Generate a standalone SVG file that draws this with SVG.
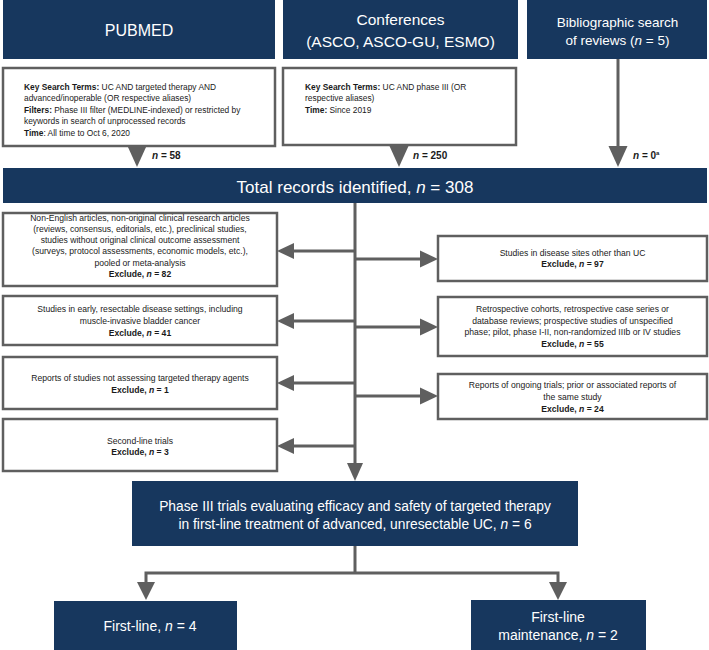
<svg xmlns="http://www.w3.org/2000/svg" width="709" height="650" viewBox="0 0 709 650">
<style>
  .dark{fill:#17375e;}
  .box{fill:#ffffff;stroke:#5f5f5f;stroke-width:2.5;}
  .ln{stroke:#5f5f5f;stroke-width:3;fill:none;}
  .ah{fill:#5f5f5f;}
  text{font-family:"Liberation Sans",Arial,sans-serif;}
  .wt{fill:#ffffff;text-anchor:middle;}
  .sm{font-size:8.6px;fill:#1a1a1a;}
  .st{font-size:8.4px;fill:#1a1a1a;}
  .c{text-anchor:middle;}
  .b{font-weight:bold;}
  .lbl{font-size:10px;font-weight:bold;fill:#1a1a1a;}
</style>
<rect width="709" height="650" fill="#ffffff"/>

<g id="connectors">
  <polygon class="ah" points="127.5,146 146.5,146 137,167"/>
  <polygon class="ah" points="389.5,146 408.5,146 399,167"/>
  <line class="ln" x1="618" y1="59" x2="618" y2="147"/>
  <polygon class="ah" points="608.5,146 627.5,146 618,167"/>
  <line class="ln" x1="355" y1="203" x2="355" y2="464"/>
  <polygon class="ah" points="347,463 363,463 355,481"/>
  <line class="ln" x1="293" y1="251" x2="355" y2="251"/>
  <polygon class="ah" points="294,243 294,259 277,251"/>
  <line class="ln" x1="293" y1="321" x2="355" y2="321"/>
  <polygon class="ah" points="294,313 294,329 277,321"/>
  <line class="ln" x1="293" y1="383" x2="355" y2="383"/>
  <polygon class="ah" points="294,375 294,391 277,383"/>
  <line class="ln" x1="293" y1="446" x2="355" y2="446"/>
  <polygon class="ah" points="294,438 294,454 277,446"/>
  <line class="ln" x1="355" y1="259" x2="421" y2="259"/>
  <polygon class="ah" points="420,250.5 420,267.5 438,259"/>
  <line class="ln" x1="355" y1="327" x2="421" y2="327"/>
  <polygon class="ah" points="420,318.5 420,335.5 438,327"/>
  <line class="ln" x1="355" y1="396" x2="421" y2="396"/>
  <polygon class="ah" points="420,387.5 420,404.5 438,396"/>
  <line class="ln" x1="355" y1="546" x2="355" y2="573"/>
  <polyline class="ln" points="146,583 146,573 558,573 558,583"/>
  <polygon class="ah" points="137,582 155,582 146,600"/>
  <polygon class="ah" points="549,582 567,582 558,600"/>
</g>

<g id="pubmed">
  <rect class="dark" x="3" y="0" width="272" height="59"/>
  <text class="wt" x="139" y="36" font-size="16">PUBMED</text>
</g>
<g id="conferences">
  <rect class="dark" x="283" y="0" width="235" height="59"/>
  <text class="wt" x="400.5" y="25" font-size="15.5">Conferences</text>
  <text class="wt" x="400.5" y="46.5" font-size="15.5">(ASCO, ASCO-GU, ESMO)</text>
</g>
<g id="bibliographic">
  <rect class="dark" x="527" y="0" width="180" height="59"/>
  <text class="wt" x="617.5" y="27" font-size="13.5">Bibliographic search</text>
  <text class="wt" x="617.5" y="45" font-size="13.5">of reviews (<tspan font-style="italic">n</tspan> = 5)</text>
</g>

<g id="pubmed-terms">
  <rect class="box" x="3" y="68" width="272" height="78"/>
  <text class="st" x="24" y="89.5"><tspan class="b">Key Search Terms:</tspan> UC AND targeted therapy AND</text>
  <text class="st" x="24" y="101">advanced/inoperable (OR respective aliases)</text>
  <text class="st" x="24" y="112.5"><tspan class="b">Filters:</tspan> Phase III filter (MEDLINE-indexed) or restricted by</text>
  <text class="st" x="24" y="124">keywords in search of unprocessed records</text>
  <text class="st" x="24" y="135.5"><tspan class="b">Time</tspan>: All time to Oct 6, 2020</text>
</g>
<g id="conf-terms">
  <rect class="box" x="283" y="68" width="233" height="77"/>
  <text class="st" x="305" y="89.5"><tspan class="b">Key Search Terms:</tspan> UC AND phase III (OR</text>
  <text class="st" x="305" y="101">respective aliases)</text>
  <text class="st" x="305" y="112.5"><tspan class="b">Time:</tspan> Since 2019</text>
</g>

<g id="labels">
  <text class="lbl" x="152" y="159"><tspan font-style="italic">n</tspan> = 58</text>
  <text class="lbl" x="413" y="159"><tspan font-style="italic">n</tspan> = 250</text>
  <text class="lbl" x="633" y="159"><tspan font-style="italic">n</tspan> = 0<tspan font-size="6" dy="-4">a</tspan></text>
</g>

<g id="total">
  <rect class="dark" x="3" y="168" width="704" height="35"/>
  <text class="wt" x="355" y="193" font-size="17">Total records identified, <tspan font-style="italic">n</tspan> = 308</text>
</g>

<g id="ex-nonenglish">
  <rect class="box" x="3" y="213" width="274" height="73"/>
  <text class="sm c" x="140" y="220.5">Non-English articles, non-original clinical research articles</text>
  <text class="sm c" x="140" y="231.8">(reviews, consensus, editorials, etc.), preclinical studies,</text>
  <text class="sm c" x="140" y="243.1">studies without original clinical outcome assessment</text>
  <text class="sm c" x="140" y="254.4">(surveys, protocol assessments, economic models, etc.),</text>
  <text class="sm c" x="140" y="265.7">pooled or meta-analysis</text>
  <text class="sm c b" x="140" y="277">Exclude, <tspan font-style="italic">n</tspan> = 82</text>
</g>
<g id="ex-early">
  <rect class="box" x="3" y="296" width="274" height="49"/>
  <text class="sm c" x="140" y="311.5">Studies in early, resectable disease settings, including</text>
  <text class="sm c" x="140" y="323.5">muscle-invasive bladder cancer</text>
  <text class="sm c b" x="140" y="335.5">Exclude, <tspan font-style="italic">n</tspan> = 41</text>
</g>
<g id="ex-nottargeted">
  <rect class="box" x="3" y="357" width="274" height="52"/>
  <text class="sm c" x="140" y="380.5">Reports of studies not assessing targeted therapy agents</text>
  <text class="sm c b" x="140" y="392.5">Exclude, <tspan font-style="italic">n</tspan> = 1</text>
</g>
<g id="ex-secondline">
  <rect class="box" x="3" y="419" width="274" height="52"/>
  <text class="sm c" x="140" y="443.5">Second-line trials</text>
  <text class="sm c b" x="140" y="455">Exclude, <tspan font-style="italic">n</tspan> = 3</text>
</g>

<g id="ex-othersites">
  <rect class="box" x="438" y="236" width="269" height="45"/>
  <text class="sm c" x="572.5" y="255.5">Studies in disease sites other than UC</text>
  <text class="sm c b" x="572.5" y="267">Exclude, <tspan font-style="italic">n</tspan> = 97</text>
</g>
<g id="ex-retrospective">
  <rect class="box" x="438" y="297" width="269" height="59"/>
  <text class="sm c" x="572.5" y="312">Retrospective cohorts, retrospective case series or</text>
  <text class="sm c" x="572.5" y="323.7">database reviews; prospective studies of unspecified</text>
  <text class="sm c" x="572.5" y="335.4">phase; pilot, phase I-II, non-randomized IIIb or IV studies</text>
  <text class="sm c b" x="572.5" y="347">Exclude, <tspan font-style="italic">n</tspan> = 55</text>
</g>
<g id="ex-ongoing">
  <rect class="box" x="438" y="374" width="269" height="45"/>
  <text class="sm c" x="572.5" y="388">Reports of ongoing trials; prior or associated reports of</text>
  <text class="sm c" x="572.5" y="400">the same study</text>
  <text class="sm c b" x="572.5" y="411.5">Exclude, <tspan font-style="italic">n</tspan> = 24</text>
</g>

<g id="phase3">
  <rect class="dark" x="132" y="481" width="446" height="65"/>
  <text class="wt" x="355" y="510.5" font-size="13.8">Phase III trials evaluating efficacy and safety of targeted therapy</text>
  <text class="wt" x="355" y="528.5" font-size="13.8">in first-line treatment of advanced, unresectable UC, <tspan font-style="italic">n</tspan> = 6</text>
</g>

<g id="firstline">
  <rect class="dark" x="54" y="601" width="183" height="52"/>
  <text class="wt" x="150" y="631" font-size="14">First-line, <tspan font-style="italic">n</tspan> = 4</text>
</g>
<g id="maintenance">
  <rect class="dark" x="471" y="600" width="175" height="53"/>
  <text class="wt" x="558" y="622" font-size="14">First-line</text>
  <text class="wt" x="558" y="640" font-size="14">maintenance, <tspan font-style="italic">n</tspan> = 2</text>
</g>
</svg>
